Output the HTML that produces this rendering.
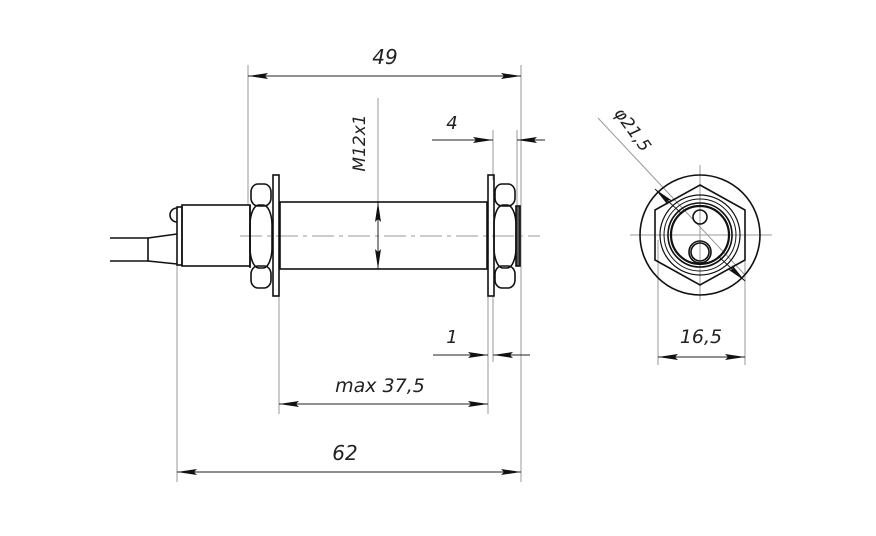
<!DOCTYPE html>
<html><head><meta charset="utf-8"><style>
html,body{margin:0;padding:0;background:#fff;}
svg{display:block;}
text{font-family:"DejaVu Sans","Liberation Sans",sans-serif;font-style:italic;fill:#222;}
</style></head><body>
<svg width="876" height="536" viewBox="0 0 876 536" xmlns="http://www.w3.org/2000/svg">
<defs>
<marker id="a" viewBox="0 0 20 6" refX="20" refY="3" markerWidth="20" markerHeight="6" markerUnits="userSpaceOnUse" orient="auto-start-reverse"><path d="M0,0 L20,3 L0,6 L3,3 Z" fill="#111"/></marker>
</defs>
<g stroke="#999" stroke-width="1" fill="none">
<line x1="248" y1="65" x2="248" y2="205"/>
<line x1="521" y1="65" x2="521" y2="482"/>
<line x1="493" y1="130" x2="493" y2="180"/>
<line x1="517" y1="130" x2="517" y2="205"/>
<line x1="177" y1="265" x2="177" y2="482"/>
<line x1="279" y1="296" x2="279" y2="414"/>
<line x1="488" y1="296" x2="488" y2="414"/>
<line x1="493" y1="296" x2="493" y2="362"/>
<line x1="378" y1="98" x2="378" y2="202"/>
<line x1="240" y1="236" x2="540" y2="236" stroke-dasharray="22,5,4,5"/>
<line x1="630" y1="235" x2="772" y2="235"/>
<line x1="700" y1="165" x2="700" y2="300"/>
<line x1="598" y1="118" x2="745" y2="275"/>
<line x1="658" y1="240" x2="658" y2="365"/>
<line x1="745" y1="240" x2="745" y2="365"/>
</g>
<g stroke="#222" stroke-width="1" fill="none">
<line x1="248" y1="76" x2="521" y2="76" marker-start="url(#a)" marker-end="url(#a)"/>
<line x1="432" y1="140" x2="493" y2="140" marker-end="url(#a)"/>
<line x1="545" y1="140" x2="517" y2="140" marker-end="url(#a)"/>
<line x1="433" y1="355" x2="488" y2="355" marker-end="url(#a)"/>
<line x1="530" y1="355" x2="493" y2="355" marker-end="url(#a)"/>
<line x1="279" y1="404" x2="488" y2="404" marker-start="url(#a)" marker-end="url(#a)"/>
<line x1="177" y1="472" x2="521" y2="472" marker-start="url(#a)" marker-end="url(#a)"/>
<line x1="378" y1="236" x2="378" y2="202" marker-end="url(#a)"/>
<line x1="378" y1="236" x2="378" y2="269" marker-end="url(#a)"/>
<line x1="658" y1="357" x2="745" y2="357" marker-start="url(#a)" marker-end="url(#a)"/>
<line x1="682" y1="214" x2="655" y2="189" marker-end="url(#a)"/>
<line x1="718" y1="256" x2="745" y2="281" marker-end="url(#a)"/>
</g>
<g stroke="#111" stroke-width="1.6" fill="none">
<path d="M110,238 L148,238 L148,261 L110,261"/>
<path d="M148,238 L177,234 M148,261 L177,264"/>
<path d="M177,222 A7,7 0 0 1 177,208"/>
<rect x="177" y="207" width="5" height="58"/>
<rect x="182" y="205" width="68" height="61"/>
<rect x="280" y="202" width="207" height="67"/>
<!-- left nut -->
<rect x="251" y="184" width="20" height="22" rx="7" ry="8"/>
<rect x="250" y="205" width="22" height="63" rx="9" ry="20"/>
<rect x="251" y="266" width="20" height="22" rx="7" ry="8"/>
<line x1="250" y1="205" x2="250" y2="268"/>
<rect x="273" y="175" width="6" height="121"/>
<!-- right nut -->
<rect x="488" y="175" width="6" height="121"/>
<rect x="495" y="184" width="20" height="22" rx="7" ry="8"/>
<rect x="494" y="205" width="22" height="63" rx="9" ry="20"/>
<rect x="495" y="266" width="20" height="22" rx="7" ry="8"/>
<rect x="516" y="206" width="4" height="60" fill="#555"/>
<!-- end view -->
<circle cx="700" cy="235" r="60"/>
<path d="M700,185 L745,210 L745,260 L700,285 L655,260 L655,210 Z"/>
<circle cx="700" cy="235" r="40" stroke-width="1.2"/>
<circle cx="700" cy="235" r="36" stroke-width="1"/>
<circle cx="700" cy="235" r="32"/>
<circle cx="700" cy="235" r="29" stroke-width="2.2"/>
<circle cx="700" cy="217" r="7"/>
<circle cx="700" cy="252" r="11"/>
<circle cx="700" cy="252" r="9"/>
</g>
<text x="385" y="64" font-size="20" text-anchor="middle">49</text>
<text x="452" y="129" font-size="18" text-anchor="middle">4</text>
<text x="452" y="343" font-size="18" text-anchor="middle">1</text>
<text x="380" y="392" font-size="19" text-anchor="middle">max 37,5</text>
<text x="345" y="460" font-size="20" text-anchor="middle">62</text>
<text x="701" y="343" font-size="19" text-anchor="middle">16,5</text>
<text transform="translate(365,143) rotate(-90)" font-size="17" text-anchor="middle">M12x1</text>
<text transform="translate(628,133) rotate(54)" font-size="17" text-anchor="middle">φ21,5</text>
</svg>
</body></html>
